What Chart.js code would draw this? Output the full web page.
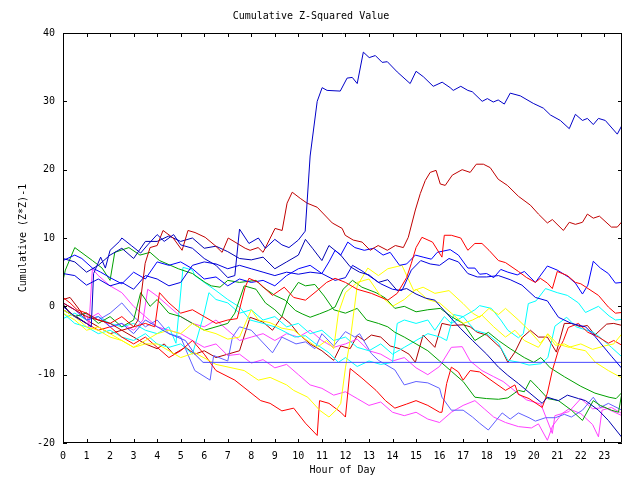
<!DOCTYPE html>
<html>
<head>
<meta charset="utf-8">
<script src="https://cdn.jsdelivr.net/npm/chart.js@4/dist/chart.umd.min.js"></script>
<style>
html,body{margin:0;padding:0;background:#fff;}
#wrap{width:640px;height:480px;}
</style>
</head>
<body>
<div id="wrap"><canvas id="c" width="640" height="480"></canvas></div>
<script>
// ---- data: [hour, cumulative (Z*Z)-1] ----
const hourTicks = [0,1,2,3,4,5,6,7,8,9,10,11,12,13,14,15,16,17,18,19,20,21,22,23];
const valueTicks = [-20,-10,0,10,20,30,40];

const navyBig = [[0,0],[0.5,-1.5],[1,-2.5],[1.2,-3],[1.3,4.8],[1.6,7.2],[1.8,5.6],[2,8.2],[2.4,9.5],[2.5,10],[2.9,8.9],[3.3,7.8],[3.6,9],[4,10.5],[4.3,9.5],[4.7,10.5],[5,9],[5.5,8.5],[6,7],[6.5,6],[7,4.2],[7.3,4.5],[7.5,11.3],[7.9,9.2],[8.3,10],[8.6,8.5],[9,9.8],[9.3,9],[9.6,8.6],[10,9.7],[10.29,11],[10.5,22],[10.8,30],[11.01,32],[11.22,31.6],[11.78,31.5],[12.07,33.4],[12.29,33.5],[12.5,32.6],[12.76,37.2],[13.01,36.4],[13.27,36.7],[13.56,35.7],[13.78,35.8],[14.2,34.3],[14.75,32.6],[15.0,34.4],[15.31,33.6],[15.73,32.2],[16.11,32.8],[16.45,32],[16.58,31.6],[16.9,32.2],[17.2,31.6],[17.39,31.4],[17.81,30],[18.03,30.4],[18.28,29.9],[18.49,30.2],[18.75,29.6],[19.0,31.2],[19.43,30.8],[19.98,29.7],[20.41,29],[20.71,28],[21.13,27.2],[21.51,26],[21.77,28.1],[22.07,27.2],[22.28,27.5],[22.53,26.6],[22.75,27.5],[23.04,27.2],[23.55,25.2],[23.75,26.5]];
const darkRedBig = [[0,0.5],[0.5,-0.5],[1,-1.5],[1.5,-2],[2,-2.5],[2.5,-3.5],[3,-3],[3.19,-2],[3.49,6.3],[3.7,8.6],[4,8.9],[4.25,11.1],[4.68,10],[5.06,8.2],[5.31,11.1],[5.61,10.8],[6.04,10.1],[6.46,8.9],[6.76,7.9],[7.02,10],[7.31,9.4],[7.74,8.5],[7.95,8.2],[8.29,8.6],[8.5,7.9],[9.01,11.4],[9.31,11.1],[9.52,15.1],[9.74,16.7],[10.08,15.8],[10.37,15.1],[10.8,14.5],[11.44,12.2],[11.86,11.4],[11.99,10.4],[12.33,9.7],[12.71,9.4],[13.05,8.2],[13.39,8.9],[13.78,8.2],[14.12,8.9],[14.46,8.6],[14.67,10.1],[14.97,14.1],[15.18,16.5],[15.39,18.4],[15.6,19.6],[15.85,19.9],[16.03,17.9],[16.24,17.7],[16.54,19.2],[16.96,20],[17.3,19.6],[17.56,20.8],[17.86,20.8],[18.15,20.3],[18.49,18.6],[18.88,17.7],[19.35,16.1],[19.86,14.8],[20.2,13.5],[20.58,12.2],[20.79,12.7],[21.26,11.1],[21.51,12.3],[21.77,12],[22.07,12.3],[22.28,13.5],[22.53,12.9],[22.79,13.2],[23.3,11.6],[23.55,11.6],[23.75,12.4]];
const redUpper = [[0,1.3],[0.3,0.5],[0.6,-0.5],[1,-1],[1.5,-2],[2,-2.5],[2.5,-1.5],[3,-3],[3.5,-2.5],[3.9,-3],[4.1,2],[4.5,0.5],[5,-1],[5.5,-0.5],[6,-1.5],[6.5,-2.5],[7,-2],[7.4,-1.8],[7.74,2.8],[7.9,4.1],[8.3,3.5],[8.9,1.6],[9.4,2.8],[9.8,1.3],[10.3,0.9],[10.8,2.3],[11.2,3.5],[11.56,4.1],[12,3.5],[12.5,2.5],[13.1,1.9],[13.8,0.9],[14.2,1.9],[14.6,4.2],[14.8,6.3],[15.0,8.6],[15.25,10.1],[15.7,9.4],[16.1,7.2],[16.2,10.4],[16.5,10.4],[16.9,10],[17.2,8.2],[17.5,9.2],[17.8,9.2],[18.1,8.2],[18.5,6.7],[18.8,6.4],[19.35,5.1],[19.7,4.2],[20.07,3.5],[20.28,4.1],[20.58,3.4],[20.79,2.6],[21.0,5.1],[21.43,4.5],[21.77,3.5],[22.0,3.3],[22.75,1.6],[23.17,-0.1],[23.47,-1],[23.75,-0.9]];
const blueA = [[0,6.7],[0.5,7.5],[0.8,7],[1.25,5.6],[1.6,5],[2,4.2],[2.5,3.3],[3,5],[3.5,4],[4,6.5],[4.5,6],[5,6.5],[5.5,5.5],[6,4],[6.5,4.3],[7,3],[7.5,4],[8,3.5],[8.5,3.8],[9,3],[9.5,4.5],[10,5.5],[10.5,6],[11,4.8],[11.3,6.5],[11.56,8.2],[11.8,7.5],[12.1,9.4],[12.4,8.6],[12.8,8.2],[13.2,8.5],[13.6,7.5],[13.9,7.9],[14.3,6],[14.6,6.2],[14.97,7.5],[15.3,7.2],[15.65,6.9],[15.9,7.9],[16.45,8.3],[16.8,7.5],[17.2,5.6],[17.5,5.6],[17.7,4.7],[18.0,4.8],[18.3,4.2],[18.6,5.4],[18.9,5],[19.3,4.6],[19.6,5.1],[20.07,3.5],[20.58,5.9],[21.0,5.3],[21.47,4.3],[21.77,3.4],[22.07,1.8],[22.3,3.1],[22.53,6.6],[22.83,5.6],[23.17,4.8],[23.47,3.4],[23.75,3.5]];
const blueB = [[0,4.8],[0.5,4.5],[1,3.1],[1.5,4],[2,3],[2.5,3.5],[3,2.5],[3.5,4.5],[4,4],[4.5,3],[5,3.5],[5.5,6],[6,6.5],[6.5,6.2],[7,5.5],[7.5,6],[8,5.5],[8.5,5],[9,4.5],[9.5,5],[10,4.7],[10.5,5],[11,4.8],[11.56,3.8],[12,4.2],[12.3,6],[12.7,5.2],[13.2,4],[13.5,3.3],[14,2.5],[14.4,2.3],[14.8,5.3],[15.2,6.7],[15.6,6.2],[16,6],[16.4,7],[16.8,6.5],[17.2,4.8],[17.6,4.3],[18,4.3],[18.5,4.5],[19,3.9],[19.5,3.1],[20.07,1.3],[20.58,0.8],[21.05,-1.6],[21.6,-2.5],[22.2,-3],[22.6,-4.4],[23.3,-7.3],[23.75,-9.1]];
const navyDiag = [[0,7],[0.5,6.5],[1,5],[1.5,6],[2,7.5],[2.5,8.5],[3,7],[3.5,9.5],[4,9.5],[4.5,10.3],[5,9.5],[5.5,10],[6,8.5],[6.5,8.8],[7,8],[7.5,7],[8,6.8],[8.5,7.2],[9,5.5],[9.5,6.5],[10,7.5],[10.3,9.8],[10.6,8.5],[11,6.7],[11.3,8.9],[11.8,7.5],[12.2,5.8],[12.6,5],[13,4.6],[13.4,3.5],[13.8,3.9],[14.2,2.3],[14.6,2.6],[15,1.8],[15.4,1.2],[15.8,0.9],[16.03,0],[16.88,-3.2],[17.4,-5],[18,-7],[18.5,-8.9],[18.9,-10.1],[19.35,-11.3],[19.8,-12.6],[20.36,-14.2],[20.58,-13.3],[21.05,-13.8],[21.43,-13],[21.9,-13.5],[22.2,-13.8],[22.75,-15.2],[23.17,-16.7],[23.75,-19.2]];
const flatBlue = [[0,0.5],[0.5,-0.5],[1,-2],[1.5,-1.5],[2,-3],[2.5,-2.5],[3,-4],[3.5,-2],[4,-3],[4.5,-4],[5.2,-5],[5.6,-7],[5.95,-8.2],[23.75,-8.2]];
const yellowLow = [[0,-0.5],[0.5,-1.5],[1,-3],[1.5,-3.5],[2,-4.5],[2.5,-5],[3,-6],[3.5,-5.5],[4,-5.5],[4.5,-6.5],[5,-7.5],[5.6,-6.8],[6.5,-8.5],[7.7,-9.4],[8.3,-10.8],[8.8,-10.4],[9.5,-11.5],[9.8,-12.3],[10.4,-13.3],[10.9,-15.2],[11.3,-16.2],[11.6,-15.2],[11.8,-14.2],[12.0,-9],[12.2,-5],[12.5,3],[12.95,5.6],[13.4,4.5],[13.8,5.5],[14.4,6],[14.9,2.3],[15.3,2.8],[15.8,1.9],[16.4,2.3],[17.0,0.4],[17.4,-1],[17.7,-1.6],[18.1,-0.3],[18.5,-1.2],[18.8,-0.3],[19.35,-2],[19.8,-3.5],[20.28,-5.4],[20.58,-4.1],[20.92,-5.7],[21.3,-5.5],[21.64,-6.1],[22.2,-6.5],[22.62,-8.2],[23.17,-9.4],[23.75,-10.5]];
const yellowUp = [[0,-1],[0.5,-2],[1,-3.5],[1.5,-3],[2,-4],[2.5,-5],[3,-6],[3.5,-5],[4,-4],[4.5,-3.5],[5,-4],[5.5,-2.5],[6,-3.5],[6.5,-4],[7,-4.8],[7.5,-4.5],[8,-0.5],[8.3,-2],[8.8,-2.4],[9.3,-3.2],[9.8,-3.5],[10.3,-4.8],[10.8,-6],[11.2,-5],[11.5,-6.2],[11.7,-1],[12,2],[12.5,3.5],[13,4],[13.5,1.5],[14,0],[14.5,1],[15,2.5],[15.5,1],[16,0.5],[16.5,-1],[17,-2.5],[17.4,-2],[17.8,-1.3],[18.3,-3],[18.8,-4.5],[19.2,-3.5],[19.6,-5],[20.2,-6],[20.6,-4],[21.0,-5.5],[21.5,-6],[22,-5.5],[22.5,-6.3],[23,-5.8],[23.4,-5.5],[23.75,-4]];
const redLow = [[0,0],[0.5,-1.5],[1,-2.5],[1.5,-3.5],[2,-3],[2.5,-4.5],[3,-5.5],[3.5,-4.5],[4,-6],[4.5,-7.5],[5,-6.5],[5.5,-5],[6,-7],[6.5,-9.4],[7.3,-10.8],[8.4,-13.8],[8.8,-14.2],[9.3,-15.3],[9.8,-14.9],[10.3,-17.1],[10.8,-18.9],[10.9,-13.8],[11.3,-14.2],[11.8,-15.5],[12.0,-16.2],[12.2,-9.1],[12.7,-10.5],[13.3,-12.3],[13.7,-13.8],[14.1,-14.9],[14.6,-14.3],[15.0,-13.8],[15.5,-14.5],[16.0,-15.5],[16.1,-15.5],[16.3,-11.3],[16.5,-8.9],[16.8,-9.6],[17.0,-10.8],[17.3,-9.4],[17.7,-9.6],[18.1,-10.6],[18.8,-12.3],[19.2,-11.5],[19.35,-12.9],[19.8,-13.5],[20.36,-14.8],[20.58,-12.7],[20.79,-9.4],[21.05,-6.4],[21.26,-5],[21.47,-3.1],[21.9,-2.5],[22.3,-3.8],[22.75,-4.5],[23.17,-5.4],[23.4,-5],[23.75,-5.7]];
const greenUp = [[0,3.8],[0.1,5.3],[0.5,8.6],[1.25,6.7],[1.66,5.6],[2,3.8],[2.2,7.9],[2.8,8.6],[3.27,7.5],[3.7,7.9],[4.1,6.7],[4.9,5.5],[5.5,4.8],[6.04,3.5],[6.3,3.0],[6.67,2.8],[7.0,3.8],[7.5,3.5],[8.2,3.8],[8.5,2.8],[9.0,1.6],[9.44,0.9],[9.87,-0.6],[10.16,-1.1],[10.5,-1.6],[10.9,-1.1],[11.27,-0.6],[11.56,-0.1],[11.9,2.5],[12.3,3.8],[12.7,2.8],[13.3,2],[13.7,1.2],[14.1,-0.3],[14.5,0],[15,-0.8],[15.5,-0.5],[16.03,-0.3],[16.5,-1.5],[17.0,-2.5],[17.5,-5],[18.07,-3.8],[18.5,-5],[19.0,-6.2],[19.6,-7.5],[20.0,-8.2],[20.3,-7.5],[20.7,-9],[21.3,-10.3],[22.0,-11.7],[22.6,-12.7],[23.2,-13.3],[23.5,-13.5],[23.75,-12.6]];
const greenLow = [[0,-0.5],[0.5,-1.5],[1,-1],[1.5,-2.5],[2,-1.5],[2.5,-3],[3,-2],[3.3,2],[3.7,0],[4,1],[4.5,-1],[5,-1.5],[5.5,-2.5],[6,-3.5],[6.5,-3],[7,-2.5],[7.3,-1],[7.7,3],[8.2,2.5],[8.6,0.5],[9,-0.5],[9.3,-1.5],[9.6,1.5],[10,3.5],[10.3,3],[10.7,3.2],[11.1,1.5],[11.5,-0.5],[12,-1],[12.5,-0.3],[12.9,-2],[13.4,-2.5],[13.8,-3],[14.1,-3.8],[14.5,-4.5],[15,-5.5],[15.5,-6.5],[16,-8],[16.5,-9.5],[17,-11],[17.5,-13.3],[18,-13.5],[18.5,-13.6],[18.9,-13.4],[19.35,-12.3],[19.6,-12.5],[19.86,-10.8],[20.2,-12],[20.6,-13.5],[21.05,-13.8],[21.6,-15.2],[22.07,-16.7],[22.53,-13.8],[22.83,-14.5],[23.3,-15.2],[23.6,-15.5],[23.75,-12.6]];
const cyanA = [[0,-1.8],[0.5,-1],[1,-2],[1.5,-1.5],[2,-2.5],[2.5,-3],[3,-2.5],[3.5,-3.5],[4,-4],[4.5,-3],[4.8,-5.4],[5.1,5.7],[5.5,5.3],[5.6,4.5],[6,3.5],[6.5,2.3],[7,1],[7.5,-0.1],[7.95,-2],[8.5,-2.5],[9,-3],[9.3,-3.5],[9.85,-4.5],[10.3,-4.3],[10.7,-5.4],[11.3,-6.8],[11.7,-8.2],[12,-7.5],[12.5,-8.8],[13,-8],[13.5,-8.5],[14.0,-8.2],[14.2,-2.5],[14.5,-2],[15,-2.5],[15.5,-2],[15.8,-3.5],[16.2,-1.5],[16.5,-2.5],[17,-1.5],[17.5,-0.5],[17.7,0.1],[18.2,-0.3],[18.6,-2],[18.9,-3.5],[19.35,-4.6],[19.56,-4],[19.77,0.4],[20.1,0.8],[20.5,2.6],[21,2],[21.43,1.6],[21.9,0.5],[22.2,-0.9],[22.75,0],[23.2,-1.4],[23.47,-2],[23.75,-1.9]];
const cyanB = [[0,-1],[0.5,-2.5],[1,-3],[1.5,-4],[2,-3.5],[2.5,-4.5],[3,-5],[3.5,-4],[4,-5.5],[4.5,-6],[5,-5.5],[5.5,-7],[6,-1],[6.2,2],[6.5,1],[7,0.5],[7.5,-1],[8,-0.5],[8.5,-2],[9,-1.5],[9.5,-3],[10,-2.5],[10.5,-4],[11,-3.5],[11.5,-5],[12,-4.5],[12.5,-6],[13,-6.5],[13.5,-5.5],[14,-7],[14.5,-6],[15,-5],[15.5,-4],[16.03,-4.5],[16.3,-5],[16.6,-1.2],[17,-1.5],[17.5,-3.5],[18,-4],[18.5,-5.4],[18.9,-7.9],[19.4,-8.2],[19.8,-8.6],[20.3,-8.4],[20.6,-7.5],[20.9,-2.9],[21.4,-1.6],[21.8,-3],[22.53,-3.8],[22.8,-4.5],[23.3,-6],[23.75,-7.4]];
const periwinkle = [[0,-0.5],[0.5,-1.5],[1,-1],[1.5,-2],[2,-1],[2.5,0.5],[3,-1.5],[3.5,-3],[4,-2],[4.5,-4],[5,-4.5],[5.3,-7],[5.6,-9.4],[6.25,-10.8],[6.4,-7.2],[7,-8],[7.2,-4.5],[7.5,-3],[8,-3.5],[8.9,-6.8],[9.3,-4.5],[9.9,-5.5],[10.3,-5.2],[10.7,-6.2],[11,-4],[11.5,-5.8],[12,-3.7],[12.4,-4.5],[12.6,-4],[13.1,-6.9],[13.4,-7.9],[14.1,-9.3],[14.5,-11.5],[15.0,-11.0],[15.5,-11.2],[16.0,-12],[16.1,-13.3],[16.5,-15.2],[17.0,-15.2],[17.4,-16.2],[17.7,-17.1],[18.07,-18.1],[18.66,-15.6],[19.0,-16.5],[19.35,-15.6],[19.8,-16.3],[20.07,-16.8],[20.5,-16.3],[20.92,-16.3],[21.3,-15.8],[21.6,-16.2],[22.07,-15.2],[22.53,-13.3],[22.83,-14.8],[23.17,-14.2],[23.75,-15.2]];
const magentaA = [[0,-0.5],[0.5,-1.5],[1,-1],[1.1,-3],[1.25,5.5],[1.5,4.5],[2,3],[2.5,2],[3,0],[3.5,-1.5],[4,-3],[4.5,-3.5],[5,-4],[5.5,-5],[6,-6],[6.5,-5.5],[7,-7.2],[7.5,-7],[8,-8.3],[8.5,-7.8],[9,-9],[9.5,-8.5],[10,-10],[10.5,-11.5],[11,-12],[11.5,-13],[12,-12.5],[12.5,-13.5],[13,-14.5],[13.5,-14],[14,-15.5],[14.5,-16],[15,-15.5],[15.5,-16.5],[16,-17],[16.5,-15.5],[17,-14.5],[17.5,-13.8],[17.9,-15],[18.3,-16.2],[18.8,-17],[19.35,-17.6],[19.9,-17.8],[20.2,-17.2],[20.58,-19.6],[20.8,-17.5],[21.2,-15.7],[21.5,-15],[22,-15.7],[22.5,-17.3],[22.75,-19.1],[22.9,-15.2],[23.3,-14.8],[23.75,-15.7]];
const magentaB = [[0,0.5],[0.5,-0.5],[1,-2],[1.5,-1],[2,-3],[2.5,-2.5],[3,-3.5],[3.4,-2],[3.6,2.5],[4,1.5],[4.5,0],[5,-1.5],[5.5,-2.5],[6,-3],[6.5,-2],[7,-3.5],[7.5,-5],[8,-4.5],[8.5,-4],[9,-5],[9.5,-4],[10,-4.5],[10.5,-3.5],[11,-5],[11.5,-6],[12,-5.5],[12.5,-4.8],[13,-6.5],[13.5,-7],[14,-8],[14.5,-7.5],[15,-9],[15.5,-10],[16,-8.8],[16.5,-6],[16.96,-5.9],[17.3,-8],[17.8,-9.4],[18.3,-10.3],[18.7,-11],[19.35,-12.8],[19.7,-13.7],[20.3,-14.3],[20.79,-18.6],[20.9,-16],[21.5,-15.4],[22,-13.5],[22.5,-15],[23,-14.8],[23.75,-16]];
const darkRedLow = [[0,1],[0.3,1.3],[0.7,-0.5],[1,-2],[1.5,-3],[2,-4],[2.5,-3.5],[3,-4.5],[3.5,-5.5],[4,-6.2],[4.3,-5.5],[4.7,-7],[5.2,-6],[5.6,-7],[6,-6.5],[6.5,-7.5],[7,-7],[7.5,-6.5],[7.95,-1.6],[8.5,-2.3],[8.9,-3.5],[9.3,-1.5],[9.65,-2.5],[10,-4],[10.5,-5.5],[11,-6.5],[11.5,-7.9],[11.8,-5.8],[12.2,-6.2],[12.5,-4.3],[12.8,-5],[13.1,-4.2],[13.5,-4.5],[13.9,-5.8],[14.3,-6.2],[14.7,-7],[14.97,-8.2],[15.3,-4.2],[15.8,-6],[16.1,-2.5],[16.5,-2.8],[17,-2.7],[17.3,-3],[17.6,-3.8],[18,-4.2],[18.6,-6.1],[18.9,-8.2],[19.2,-6.7],[19.5,-4.6],[19.86,-3.5],[20.2,-4.5],[20.58,-4.5],[20.96,-6.7],[21.3,-2.5],[21.6,-2.5],[22.0,-3],[22.28,-2.8],[22.6,-4.2],[23.1,-2.6],[23.4,-2.5],[23.75,-2.8]];
const blackStart = [[0,0.3],[0.3,-1],[0.7,-1.8],[1,-2.5]];

const seriesList = [
  [navyBig,'#0000c8'],[darkRedBig,'#c00000'],[redUpper,'#ff0000'],[blueA,'#0000ff'],
  [blueB,'#0000e0'],[navyDiag,'#0000b0'],[flatBlue,'#4848ff'],[yellowLow,'#ffff00'],
  [yellowUp,'#ffff00'],[redLow,'#ff0000'],[greenUp,'#00a000'],[greenLow,'#00a000'],
  [cyanA,'#00ffff'],[cyanB,'#00ffff'],[periwinkle,'#6060ff'],[magentaA,'#ff40ff'],
  [magentaB,'#ff40ff'],[darkRedLow,'#b00000'],[blackStart,'#000000']
];

const FONT = "'DejaVu Sans Mono', 'Liberation Mono', monospace";

const framePlugin = {
  id: 'frame',
  afterDatasetsDraw(chart) {
    const {ctx, chartArea: a, scales: {x, y}} = chart;
    ctx.save();
    ctx.strokeStyle = '#000';
    ctx.lineWidth = 1;
    ctx.beginPath();
    ctx.rect(Math.round(a.left) + 0.5, Math.round(a.top) + 0.5, Math.round(a.right - a.left) - 1, Math.round(a.bottom - a.top) - 1);
    const tl = 4;
    hourTicks.forEach(h => {
      const px = Math.round(x.getPixelForValue(h)) + 0.5;
      ctx.moveTo(px, a.bottom); ctx.lineTo(px, a.bottom - tl);
      ctx.moveTo(px, a.top); ctx.lineTo(px, a.top + tl);
    });
    valueTicks.forEach(v => {
      const py = Math.round(y.getPixelForValue(v)) + 0.5;
      ctx.moveTo(a.left, py); ctx.lineTo(a.left + tl, py);
      ctx.moveTo(a.right, py); ctx.lineTo(a.right - tl, py);
    });
    ctx.stroke();
    ctx.restore();
  }
};

new Chart(document.getElementById('c'), {
  type: 'scatter',
  data: {
    datasets: seriesList.map(([arr, col]) => ({
      data: arr.map(([h, v]) => ({x: h, y: v})),
      borderColor: col,
      backgroundColor: col,
      borderWidth: 1,
      showLine: true,
      pointRadius: 0,
      tension: 0
    }))
  },
  options: {
    responsive: false,
    animation: false,
    devicePixelRatio: 1,
    layout: {padding: {left: 0, right: 18, top: 0, bottom: 0}},
    plugins: {
      legend: {display: false},
      tooltip: {enabled: false},
      title: {
        display: true,
        text: 'Cumulative Z-Squared Value',
        color: '#000',
        font: {family: FONT, size: 10, weight: 'normal'},
        padding: {top: 10, bottom: 11}
      }
    },
    scales: {
      x: {
        type: 'linear',
        min: 0, max: 23.75,
        afterBuildTicks: s => { s.ticks = hourTicks.map(v => ({value: v})); },
        afterFit: s => { s.height = 37; },
        grid: {display: false, drawTicks: false},
        border: {display: false},
        ticks: {color: '#000', font: {family: FONT, size: 10}, padding: 7, autoSkip: false, maxRotation: 0},
        title: {display: true, text: 'Hour of Day', color: '#000', font: {family: FONT, size: 10}, padding: {top: 0, bottom: 4}}
      },
      y: {
        min: -20, max: 40,
        afterBuildTicks: s => { s.ticks = valueTicks.map(v => ({value: v})); },
        afterFit: s => { s.width = 63; },
        grid: {display: false, drawTicks: false},
        border: {display: false},
        ticks: {color: '#000', font: {family: FONT, size: 10}, padding: 8},
        title: {display: true, text: 'Cumulative (Z*Z)-1', color: '#000', font: {family: FONT, size: 10}, padding: {top: 17, bottom: 0}}
      }
    }
  },
  plugins: [framePlugin]
});
</script>
</body>
</html>
